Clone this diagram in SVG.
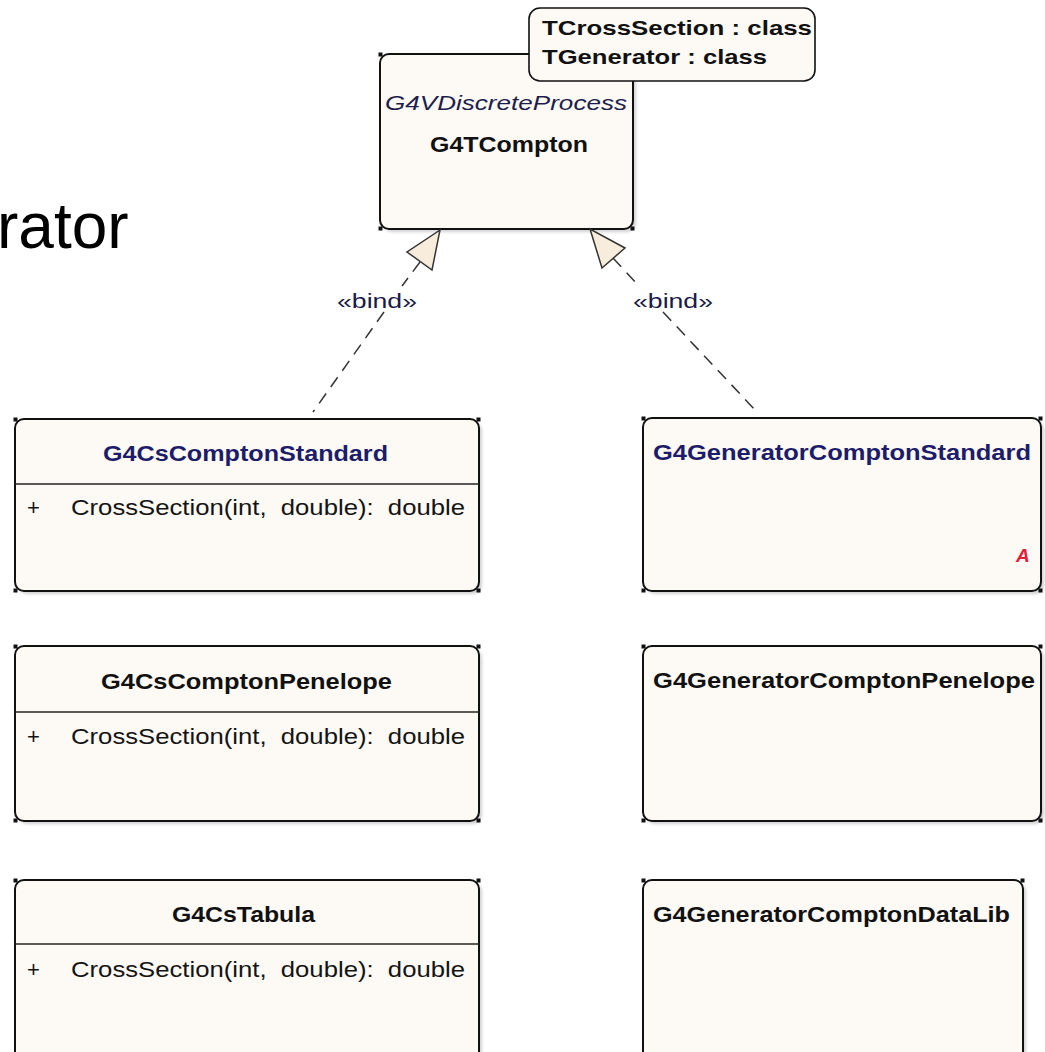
<svg xmlns="http://www.w3.org/2000/svg" width="1045" height="1052" viewBox="0 0 1045 1052">
  <style>
    .box { fill: #fdf9f4; stroke: #111; stroke-width: 2; }
    .shadow { fill: #9a9a9a; opacity: 0.45; }
    .corner { fill: #111; }
    .divider { stroke: #222; stroke-width: 1.6; }
    .title { font-family: "Liberation Sans", Arial, sans-serif; font-weight: bold; font-size: 22px; fill: #111; }
    .navy { fill: #1c1c6a; }
    .stereo { font-family: "Liberation Sans", Arial, sans-serif; font-style: italic; font-size: 21px; fill: #1e1e4e; }
    .member { font-family: "Liberation Sans", Arial, sans-serif; font-size: 22px; fill: #141414; }
    .param { font-family: "Liberation Sans", Arial, sans-serif; font-weight: bold; font-size: 21px; fill: #111; }
    .label { font-family: "Liberation Sans", Arial, sans-serif; font-size: 20px; fill: #1a1a48; }
    .abstract { font-family: "Liberation Sans", Arial, sans-serif; font-style: italic; font-weight: bold; font-size: 19px; fill: #e0203a; }
    .dep { stroke: #333; stroke-width: 1.5; stroke-dasharray: 12 8; fill: none; }
    .head { fill: #f8ecdc; stroke: #333; stroke-width: 1.5; stroke-linejoin: miter; }
  </style>
  <defs>
    <filter id="soft" x="-5%" y="-5%" width="110%" height="110%">
      <feGaussianBlur stdDeviation="1.5"/>
    </filter>
  </defs>

  <rect width="1045" height="1052" fill="#ffffff"/>

  <!-- fragment of slide heading -->
  <text x="-3" y="248" font-family="Liberation Sans, Arial, sans-serif" font-size="64" fill="#000">rator</text>

  <!-- template class with its parameter box -->
  <g id="G4TCompton">
    <rect class="shadow" x="383" y="57" width="253" height="175" rx="9" filter="url(#soft)"/>
    <rect class="box" x="380" y="54" width="253" height="175" rx="9"/>
    <rect class="corner" x="378.5" y="52.5" width="4" height="4"/>
    <rect class="corner" x="630.5" y="52.5" width="4" height="4"/>
    <rect class="corner" x="378.5" y="226.5" width="4" height="4"/>
    <rect class="corner" x="630.5" y="226.5" width="4" height="4"/>
    <text class="stereo" x="385" y="110" textLength="242" lengthAdjust="spacingAndGlyphs">G4VDiscreteProcess</text>
    <text class="title" x="430" y="152" textLength="158" lengthAdjust="spacingAndGlyphs">G4TCompton</text>
  </g>
  <g id="G4TCompton-params">
    <rect class="box" x="529" y="8" width="286" height="73" rx="11" style="stroke-width:1.6"/>
    <text class="param" x="542" y="35" textLength="270" lengthAdjust="spacingAndGlyphs">TCrossSection : class</text>
    <text class="param" x="542" y="64" textLength="225" lengthAdjust="spacingAndGlyphs">TGenerator : class</text>
  </g>

  <!-- bound cross-section classes -->
  <g id="G4CsComptonStandard">
    <rect class="shadow" x="18" y="422" width="464" height="172" rx="9" filter="url(#soft)"/>
    <rect class="box" x="15" y="419" width="464" height="172" rx="9"/>
    <rect class="corner" x="13.5" y="417.5" width="4" height="4"/>
    <rect class="corner" x="476.5" y="417.5" width="4" height="4"/>
    <rect class="corner" x="13.5" y="588.5" width="4" height="4"/>
    <rect class="corner" x="476.5" y="588.5" width="4" height="4"/>
    <line class="divider" x1="15" y1="484" x2="479" y2="484"/>
    <text class="title navy" x="103" y="461" textLength="285" lengthAdjust="spacingAndGlyphs">G4CsComptonStandard</text>
    <text class="member" x="27" y="515">+</text>
    <text class="member" x="71" y="515" textLength="394" lengthAdjust="spacingAndGlyphs" xml:space="preserve">CrossSection(int,  double):  double</text>
  </g>

  <g id="G4CsComptonPenelope">
    <rect class="shadow" x="18" y="649" width="464" height="175" rx="9" filter="url(#soft)"/>
    <rect class="box" x="15" y="646" width="464" height="175" rx="9"/>
    <rect class="corner" x="13.5" y="644.5" width="4" height="4"/>
    <rect class="corner" x="476.5" y="644.5" width="4" height="4"/>
    <rect class="corner" x="13.5" y="818.5" width="4" height="4"/>
    <rect class="corner" x="476.5" y="818.5" width="4" height="4"/>
    <line class="divider" x1="15" y1="712" x2="479" y2="712"/>
    <text class="title" x="101" y="689" textLength="291" lengthAdjust="spacingAndGlyphs">G4CsComptonPenelope</text>
    <text class="member" x="27" y="744">+</text>
    <text class="member" x="71" y="744" textLength="394" lengthAdjust="spacingAndGlyphs" xml:space="preserve">CrossSection(int,  double):  double</text>
  </g>

  <g id="G4CsTabula">
    <rect class="shadow" x="18" y="883" width="464" height="180" rx="9" filter="url(#soft)"/>
    <rect class="box" x="15" y="880" width="464" height="180" rx="9"/>
    <rect class="corner" x="13.5" y="878.5" width="4" height="4"/>
    <rect class="corner" x="476.5" y="878.5" width="4" height="4"/>
    <line class="divider" x1="15" y1="944" x2="479" y2="944"/>
    <text class="title" x="172" y="922" textLength="143" lengthAdjust="spacingAndGlyphs">G4CsTabula</text>
    <text class="member" x="27" y="977">+</text>
    <text class="member" x="71" y="977" textLength="394" lengthAdjust="spacingAndGlyphs" xml:space="preserve">CrossSection(int,  double):  double</text>
  </g>

  <!-- bound generator classes -->
  <g id="G4GeneratorComptonStandard">
    <rect class="shadow" x="646" y="421" width="398" height="173" rx="9" filter="url(#soft)"/>
    <rect class="box" x="643" y="418" width="398" height="173" rx="9"/>
    <rect class="corner" x="641.5" y="416.5" width="4" height="4"/>
    <rect class="corner" x="1038.5" y="416.5" width="4" height="4"/>
    <rect class="corner" x="641.5" y="588.5" width="4" height="4"/>
    <rect class="corner" x="1038.5" y="588.5" width="4" height="4"/>
    <text class="title navy" x="653" y="460" textLength="378" lengthAdjust="spacingAndGlyphs">G4GeneratorComptonStandard</text>
    <text class="abstract" x="1016" y="562">A</text>
  </g>

  <g id="G4GeneratorComptonPenelope">
    <rect class="shadow" x="646" y="649" width="398" height="175" rx="9" filter="url(#soft)"/>
    <rect class="box" x="643" y="646" width="398" height="175" rx="9"/>
    <rect class="corner" x="641.5" y="644.5" width="4" height="4"/>
    <rect class="corner" x="1038.5" y="644.5" width="4" height="4"/>
    <rect class="corner" x="641.5" y="818.5" width="4" height="4"/>
    <rect class="corner" x="1038.5" y="818.5" width="4" height="4"/>
    <text class="title" x="653" y="688" textLength="382" lengthAdjust="spacingAndGlyphs">G4GeneratorComptonPenelope</text>
  </g>

  <g id="G4GeneratorComptonDataLib">
    <rect class="shadow" x="646" y="883" width="380" height="180" rx="9" filter="url(#soft)"/>
    <rect class="box" x="643" y="880" width="380" height="180" rx="9"/>
    <rect class="corner" x="641.5" y="878.5" width="4" height="4"/>
    <rect class="corner" x="1020.5" y="878.5" width="4" height="4"/>
    <text class="title" x="653" y="922" textLength="357" lengthAdjust="spacingAndGlyphs">G4GeneratorComptonDataLib</text>
  </g>

  <!-- «bind» realizations to the template -->
  <g id="connectors">
    <line class="dep" x1="420" y1="262" x2="402" y2="286"/>
    <line class="dep" x1="384" y1="312" x2="313" y2="412"/>
    <polygon class="head" points="440,230 407,252 432,270"/>
    <text class="label" x="337" y="308" textLength="80" lengthAdjust="spacingAndGlyphs">«bind»</text>

    <line class="dep" x1="613" y1="258" x2="639" y2="286"/>
    <line class="dep" x1="663" y1="312" x2="757" y2="412"/>
    <polygon class="head" points="590,229 602,268 625,248"/>
    <text class="label" x="633" y="308" textLength="80" lengthAdjust="spacingAndGlyphs">«bind»</text>
  </g>
</svg>
